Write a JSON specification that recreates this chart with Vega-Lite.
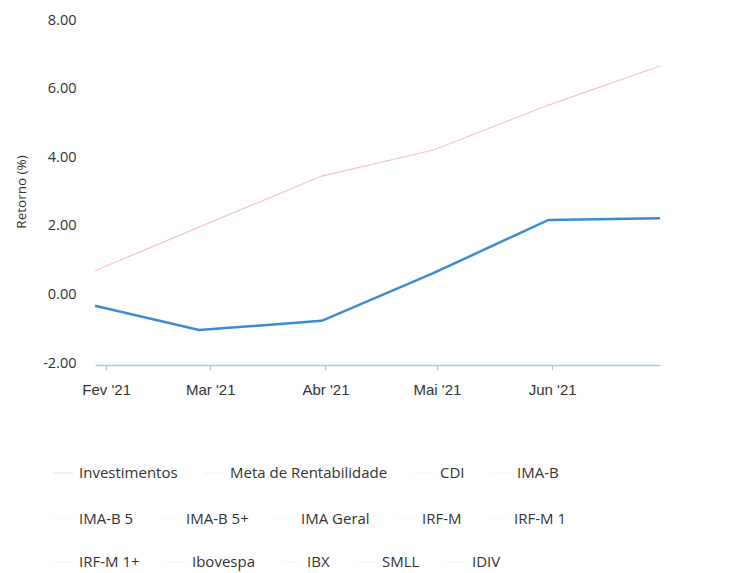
{
  "$schema": "https://vega.github.io/schema/vega-lite/v6.json",
  "width": 565,
  "height": 343,
  "autosize": {"type": "none"},
  "padding": {"left": 95, "top": 20, "right": 77, "bottom": 210},
  "background": "white",
  "data": {
    "values": [
      {"date": "2021/01/29", "series": "Investimentos", "value": -0.33},
      {"date": "2021/02/26", "series": "Investimentos", "value": -1.04},
      {"date": "2021/03/31", "series": "Investimentos", "value": -0.77},
      {"date": "2021/04/30", "series": "Investimentos", "value": 0.62},
      {"date": "2021/05/31", "series": "Investimentos", "value": 2.17},
      {"date": "2021/06/30", "series": "Investimentos", "value": 2.22},
      {"date": "2021/01/29", "series": "Meta de Rentabilidade", "value": 0.69},
      {"date": "2021/02/26", "series": "Meta de Rentabilidade", "value": 1.96},
      {"date": "2021/03/31", "series": "Meta de Rentabilidade", "value": 3.45},
      {"date": "2021/04/30", "series": "Meta de Rentabilidade", "value": 4.21},
      {"date": "2021/05/31", "series": "Meta de Rentabilidade", "value": 5.52},
      {"date": "2021/06/30", "series": "Meta de Rentabilidade", "value": 6.66}
    ]
  },
  "encoding": {
    "x": {
      "field": "date",
      "type": "temporal",
      "title": null,
      "axis": {
        "tickCount": {"interval": "month", "step": 1},
        "labelExpr": "['Jan','Fev','Mar','Abr','Mai','Jun','Jul','Ago','Set','Out','Nov','Dez'][month(datum.value)] + \" '21\"",
        "grid": false,
        "offset": 2,
        "domainColor": "#a6c8e4",
        "domainWidth": 1.5,
        "tickColor": "#a6c8e4",
        "tickSize": 5,
        "labelFont": "Liberation Sans",
        "labelFontSize": 15,
        "labelColor": "#333333",
        "labelPadding": 12
      }
    },
    "y": {
      "field": "value",
      "type": "quantitative",
      "title": "Retorno (%)",
      "scale": {"domain": [-2, 8]},
      "axis": {
        "values": [-2, 0, 2, 4, 6, 8],
        "labelExpr": "replace(format(datum.value, '.2f'), '\u2212', '-')",
        "domain": false,
        "ticks": false,
        "grid": false,
        "labelFont": "Open Sans",
        "labelFontSize": 14.5,
        "labelColor": "#333333",
        "labelPadding": 19,
        "titleFont": "Open Sans",
        "titleFontSize": 13.5,
        "titleFontWeight": "normal",
        "titleColor": "#333333",
        "titlePadding": 14
      }
    }
  },
  "layer": [
    {
      "transform": [{"filter": {"field": "series", "oneOf": ["Investimentos", "Meta de Rentabilidade", "CDI", "IMA-B"]}}],
      "mark": {"type": "line", "interpolate": "linear"},
      "encoding": {
        "color": {
          "field": "series",
          "type": "nominal",
          "scale": {
            "domain": ["Investimentos", "Meta de Rentabilidade", "CDI", "IMA-B"],
            "range": ["#3a8dd3", "#f6c3cb", "#d9d9d9", "#d9d9d9"]
          },
          "legend": {"orient": "none", "legendX": -43, "legendY": 442, "direction": "horizontal"}
        },
        "strokeWidth": {
          "field": "series",
          "type": "nominal",
          "scale": {"domain": ["Investimentos", "Meta de Rentabilidade"], "range": [2.5, 1.2]},
          "legend": null
        }
      }
    },
    {
      "transform": [{"filter": {"field": "series", "oneOf": ["IMA-B 5", "IMA-B 5+", "IMA Geral", "IRF-M", "IRF-M 1"]}}],
      "mark": {"type": "line"},
      "encoding": {
        "color": {
          "field": "series",
          "type": "nominal",
          "scale": {
            "domain": ["IMA-B 5", "IMA-B 5+", "IMA Geral", "IRF-M", "IRF-M 1"],
            "range": ["#d9d9d9", "#d9d9d9", "#d9d9d9", "#d9d9d9", "#d9d9d9"]
          },
          "legend": {"orient": "none", "legendX": -43, "legendY": 487.5, "direction": "horizontal"}
        }
      }
    },
    {
      "transform": [{"filter": {"field": "series", "oneOf": ["IRF-M 1+", "Ibovespa", "IBX", "SMLL", "IDIV"]}}],
      "mark": {"type": "line"},
      "encoding": {
        "color": {
          "field": "series",
          "type": "nominal",
          "scale": {
            "domain": ["IRF-M 1+", "Ibovespa", "IBX", "SMLL", "IDIV"],
            "range": ["#d9d9d9", "#d9d9d9", "#d9d9d9", "#d9d9d9", "#d9d9d9"]
          },
          "legend": {"orient": "none", "legendX": -43, "legendY": 531, "direction": "horizontal"}
        }
      }
    }
  ],
  "resolve": {"scale": {"color": "independent"}},
  "config": {
    "view": {"stroke": null},
    "legend": {
      "title": null,
      "padding": 0,
      "labelFont": "Open Sans",
      "labelFontSize": 15,
      "labelColor": "#333333",
      "labelOffset": 5,
      "columnPadding": 22,
      "symbolType": "stroke",
      "symbolSize": 400,
      "symbolStrokeWidth": 2,
      "symbolOpacity": 0.12
    }
  }
}
